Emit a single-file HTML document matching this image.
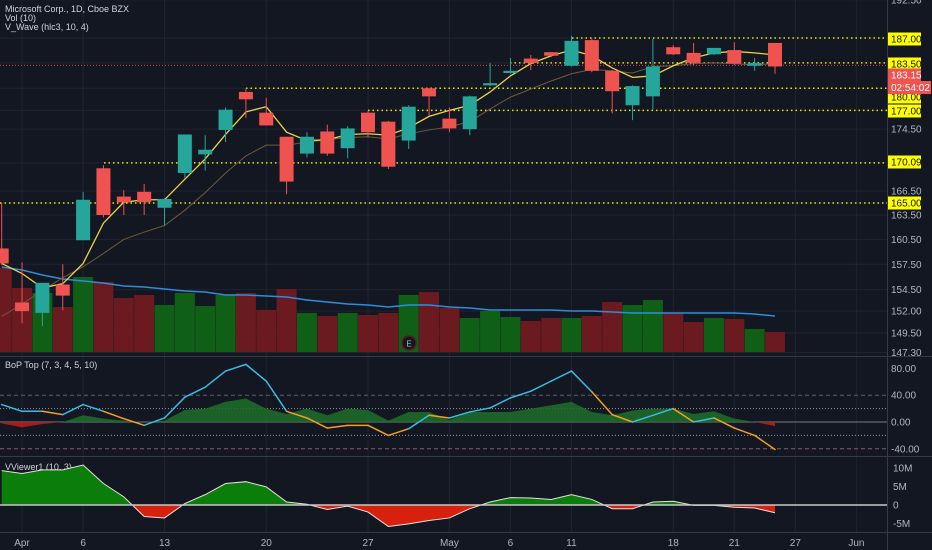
<!DOCTYPE html>
<html><head><meta charset="utf-8"><style>
html,body{margin:0;padding:0;background:#131722;}
svg{display:block;font-family:"Liberation Sans",sans-serif;}
</style></head><body>
<svg id="c" width="932" height="550" viewBox="0 0 932 550"></svg>
<script>
const dates=["Mar31","Apr1","Apr2","Apr3","Apr6","Apr7","Apr8","Apr9","Apr13","Apr14","Apr15","Apr16","Apr17","Apr20","Apr21","Apr22","Apr23","Apr24","Apr27","Apr28","Apr29","Apr30","May1","May4","May5","May6","May7","May8","May11","May12","May13","May14","May15","May18","May19","May20","May21","May22","May26"];
const opens=[159.4,153,151.8,155.1,160.4,169.4,165.8,166.4,164.4,168.8,171.2,174.4,179.5,176.7,173.5,171.3,174.2,172,176.7,175.5,173,180,175.9,174.5,180.4,182.1,184.1,185,183.1,186.7,182.4,177.7,178.9,185.7,184.9,184.7,185.3,183.1,186.3];
const closes=[157.6,152,155.3,153.8,165.4,163.5,165.1,165.1,165.5,173.8,171.8,177.1,178.5,175,167.7,173.5,171.3,174.6,174.1,169.6,177.5,178.9,174.6,178.9,180.7,182.4,183.5,184.5,186.6,182.4,179.6,180.3,183,184.7,183.5,185.6,183.4,183.5,183];
const highs=[165,157.74,155.3,157.5,166.4,169.8,166.6,167.4,165.6,173.8,173.7,177.4,180,178.7,173.5,174.1,175.1,174.9,176.9,175.6,177.7,180,177.4,179,183.5,184.2,184.6,185,187.3,186.9,182.5,180.4,186.9,186,186.3,185.6,186.4,184.2,186.3];
const lows=[157.4,150.6,150.3,152.1,160.4,163.2,163.5,163.5,162.2,168.2,169.1,172.8,176,175,166.1,170.8,171,170.7,173.5,169.3,171.9,176.3,174.1,173.7,180.3,182,182.5,184.3,183,182.2,176.6,175.7,177.1,184.6,183.2,184.6,183.2,182.4,182];
const fastMA=[157.6,156.4,154.7,155.2,157.6,162.5,165.1,165.4,165.4,168,170.6,173.8,176.8,177.5,174.1,173,173.1,173.8,173.9,173.7,174.7,176.2,177,177.7,179.5,181.7,183.4,184.5,185.3,184.5,182.8,181.5,181.7,183.1,184.2,184.9,185.1,184.9,184.6];
const slowMA=[151.4,152.8,154.4,155.9,157.2,158.8,160.5,161.4,162.2,164.1,166.3,168.8,171,172.4,172.4,172.8,173.1,173.4,173.5,173.2,173.9,174.4,174.8,175.5,177.2,178.8,179.9,181,182,182.6,182.4,182.1,183,183.1,183.4,183.5,183.4,183.2,183.4];
const volumes=[50.4,38.4,35.4,27,45,42,32.4,34.2,28.2,35.4,27.6,34.2,35.4,25.2,37.8,23.4,21.6,23.4,22.2,23.4,34.2,36,26.4,20.4,24.6,21,18.6,20.4,20.4,21.6,30,28.2,31.2,23.4,18,20.4,19.8,13.8,12];
const volMA=[51,49.2,46.2,43.8,42.6,41.4,39.6,39,37.8,36.6,36,34.2,34.2,33.6,33,31.2,30,28.8,28.2,27,28.2,28.2,27,26.4,25.2,25.2,25.2,25.2,24.6,24.6,24,23.4,23.4,23.4,23.4,23.4,23.4,22.8,21.6];
const bopLine=[26,16,16,11,26,16,5,-5,6,37,52,76,86,61,16,6,-9,-5,-5,-20,-10,10,6,15,21,36,46,61,76,45,11,0,10,20,0,6,-9,-20,-41];
const bopArea=[-2,-8,-3,0,10,5,2,0,2,18,20,30,35,20,12,20,10,20,18,2,15,15,3,15,15,15,20,25,30,15,10,17,20,20,12,16,5,0,-6];
const vview=[9.3,8.5,9.5,9.5,10.8,5.8,2.2,-3.1,-3.5,0.4,2.8,5.8,6.3,4.9,0.8,0.2,-1.2,-0.3,-1.9,-5.8,-5.1,-4.2,-3.5,-1,0.8,2,1.9,1.5,2.8,1.5,-1,-1,0.8,1,-0.1,-0.1,-0.6,-0.8,-2.1];
const priceTicks=[192.5,174.5,166.5,163.5,160.5,157.5,154.5,152,149.5,147.3];
const levels=[[187,"187.00",572,39],[183.5,"183.50",510,64],[180,"180.00",246,97],[177,"177.00",368,111],[170.09,"170.09",104,162],[165,"165.00",0,203]];
const timeLabels=[["Apr",1],["6",4],["13",8],["20",13],["27",18],["May",22],["6",25],["11",28],["18",33],["21",36],["27",39],["Jun",42]];
const bopTicks=[80,40,0,-40];
const bopTickLabels=["80.00","40.00","0.00","-40.00"];
const vvTicks=[10,5,0,-5];
const vvTickLabels=["10M","5M","0","-5M"];
const lastPrice=183.15;

const S=document.getElementById('c');const NS='http://www.w3.org/2000/svg';
const PW=887;
const X=i=>1.7+20.35*i;
const YP=p=>38+1318*(Math.log(187)-Math.log(p));
const YV=v=>352-v/0.6;
const YB=v=>422-v*0.67;
const YW=v=>505-v*3.7;
function el(t,a,p){const e=document.createElementNS(NS,t);for(const k in a)e.setAttribute(k,a[k]);(p||S).appendChild(e);return e;}
function tx(s,x,y,a,p){const e=el('text',Object.assign({x:x,y:y,fill:'#b2b5be','font-size':10},a),p);e.textContent=s;return e;}
// clips
const defs=el('defs',{});
el('rect',{x:0,y:0,width:PW,height:356},el('clipPath',{id:'cm'},defs));
el('rect',{x:0,y:357,width:PW,height:99},el('clipPath',{id:'cb'},defs));
el('rect',{x:0,y:457,width:PW,height:75},el('clipPath',{id:'cw'},defs));
el('rect',{x:0,y:457,width:PW,height:YW(0)-457},el('clipPath',{id:'cwp'},defs));
el('rect',{x:0,y:YW(0),width:PW,height:532-YW(0)},el('clipPath',{id:'cwn'},defs));
el('rect',{x:0,y:357,width:PW,height:YB(0)-357},el('clipPath',{id:'cbp'},defs));
el('rect',{x:0,y:YB(0),width:PW,height:456-YB(0)},el('clipPath',{id:'cbn'},defs));
// grid
const grid=el('g',{stroke:'#1f2330','stroke-width':1});


timeLabels.forEach(t=>el('line',{x1:X(t[1]),x2:X(t[1]),y1:0,y2:532},grid));
priceTicks.concat(levels.map(l=>l[0])).forEach(p=>el('line',{x1:0,x2:PW,y1:YP(p),y2:YP(p)},grid));
// panel separators
[356.5,456.5,532.5].forEach(y=>{const l=el('line',{x1:0,x2:932,y1:y,y2:y,stroke:'#363a45'});});
const ax=el('line',{x1:887.5,x2:887.5,y1:0,y2:550,stroke:'#363a45'});


// main panel
const main=el('g',{'clip-path':'url(#cm)'});


volumes.forEach((v,i)=>{const up=closes[i]>=opens[i];const r=el('rect',{x:X(i)-10,y:YV(v),width:20,height:352-YV(v),fill:up?'#0f5f17':'#6b1a1f'},main);});
const vm=el('polyline',{points:volMA.map((v,i)=>X(i)+','+YV(v)).join(' '),fill:'none',stroke:'#2e8ddb','stroke-width':1.5},main);


levels.forEach(l=>{const d=el('line',{x1:l[2],x2:PW,y1:YP(l[0]),y2:YP(l[0]),stroke:'#e6e600','stroke-width':1.5,'stroke-dasharray':'1.5 3'},main);});
const pl=el('line',{x1:0,x2:PW,y1:YP(lastPrice),y2:YP(lastPrice),stroke:'#ef5350','stroke-width':1,'stroke-dasharray':'1 2',opacity:0.8},main);


const sm=el('polyline',{points:slowMA.map((v,i)=>X(i)+','+YP(v)).join(' '),fill:'none',stroke:'#6e5a3a','stroke-width':1},main);


const fm=el('polyline',{points:fastMA.map((v,i)=>X(i)+','+YP(v)).join(' '),fill:'none',stroke:'#e8d44d','stroke-width':1.3},main);


opens.forEach((o,i)=>{const c=closes[i];const col=c>=o?'#26a69a':'#ef5350';const g=el('g',{},main);


el('line',{x1:X(i),x2:X(i),y1:YP(highs[i]),y2:YP(lows[i]),stroke:col,'stroke-width':1},g);
const t=YP(Math.max(o,c)),b=YP(Math.min(o,c));el('rect',{x:X(i)-7,y:t,width:14,height:Math.max(1,b-t),fill:col},g);});
const eg=el('g',{});
el('circle',{cx:409,cy:343,r:7,fill:'#131722',stroke:'#5d1a1a','stroke-width':1.5},eg);tx('E',409,346.5,{'text-anchor':'middle','font-size':8,fill:'#b2b5be'},eg);
// price axis
priceTicks.forEach(p=>{const t=tx(p.toFixed(2),891,YP(p)+3.5);});
levels.forEach(l=>{const g=el('g',{});
el('rect',{x:888,y:l[3]-6.5,width:33,height:13,fill:'#ffff00'},g);tx(l[1],891,l[3]+3.5,{fill:'#131722'},g);});
const lp=el('g',{});
el('rect',{x:888,y:68.5,width:33,height:13,fill:'#ef5350'},lp);tx(lastPrice.toFixed(2),891,78.5,{fill:'#fff'},lp);
el('rect',{x:888,y:81,width:43,height:13,fill:'#ef5350'},lp);tx('02:54:02',891,91,{fill:'#fff'},lp);
// legends
[['Microsoft Corp., 1D, Cboe BZX',12],['Vol (10)',21],['V_Wave (hlc3, 10, 4)',30]].forEach(l=>{const t=tx(l[0],5,l[1],{fill:'#d1d4dc','font-size':9});});
// BoP panel
const bop=el('g',{});
const tb=tx('BoP Top (7, 3, 4, 5, 10)',5,368,{fill:'#d1d4dc','font-size':9},bop);
[[40,'#5d606b','4 3'],[20,'#9598a1','1 2'],[-20,'#9598a1','1 2'],[-40,'#8a5a6a','4 3']].forEach(d=>el('line',{x1:0,x2:PW,y1:YB(d[0]),y2:YB(d[0]),stroke:d[1],'stroke-dasharray':d[2]},bop));
el('line',{x1:0,x2:PW,y1:YB(0),y2:YB(0),stroke:'#787b86'},bop);
const ap='M'+X(0)+','+YB(0)+' '+bopArea.map((v,i)=>'L'+X(i)+','+YB(v)).join(' ')+' L'+X(bopArea.length-1)+','+YB(0)+'Z';
const ba1=el('path',{d:ap,fill:'#1e6e28','fill-opacity':0.85,'clip-path':'url(#cbp)'},bop);


const ba2=el('path',{d:ap,fill:'#b71c1c','fill-opacity':0.9,'clip-path':'url(#cbn)'},bop);


for(let i=1;i<bopLine.length;i++){const a=bopLine[i-1],b=bopLine[i];const or=b<0||(b<a&&b<12);
const s=el('line',{x1:X(i-1),y1:YB(a),x2:X(i),y2:YB(b),stroke:or?'#f0a020':'#3bbbe0','stroke-width':1.5,'stroke-linecap':'round'},bop);

}
bopTicks.forEach((v,k)=>{const t=tx(bopTickLabels[k],891,YB(v)+3.5);});
// VViewer
const vw=el('g',{});
tx('VViewer1 (10, 3)',5,470,{fill:'#d1d4dc','font-size':9},vw);
const wp='M'+X(0)+','+YW(0)+' '+vview.map((v,i)=>'L'+X(i)+','+YW(v)).join(' ')+' L'+X(vview.length-1)+','+YW(0)+'Z';
const w1=el('path',{d:wp,fill:'#0b7d0b','clip-path':'url(#cwp)'},vw);


const w2=el('path',{d:wp,fill:'#d8200e','clip-path':'url(#cwn)'},vw);


const wl=el('polyline',{points:vview.map((v,i)=>X(i)+','+YW(v)).join(' '),fill:'none',stroke:'#e8e0e0','stroke-width':1},vw);


el('line',{x1:0,x2:PW,y1:YW(0),y2:YW(0),stroke:'#c8c8c8','stroke-width':1.5},vw);
vvTicks.forEach((v,k)=>{const t=tx(vvTickLabels[k],893,YW(v)+3.5);});
// time axis
timeLabels.forEach(t=>{const e=tx(t[0],X(t[1]),546,{'text-anchor':'middle'});});
</script>
</body></html>
